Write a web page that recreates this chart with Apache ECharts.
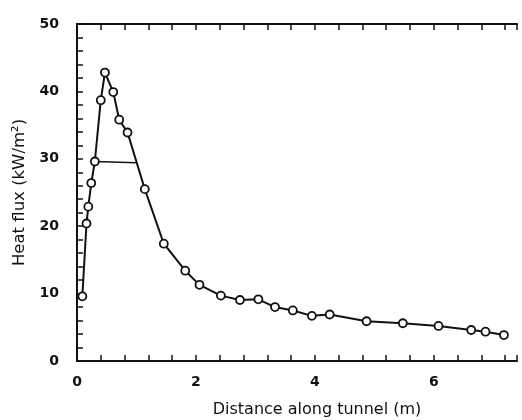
<!DOCTYPE html>
<html>
<head>
<meta charset="utf-8">
<script src="https://cdn.jsdelivr.net/npm/echarts@6/dist/echarts.min.js"></script>
<style>
html,body{margin:0;padding:0;background:#fff;}
#c{width:522px;height:420px;}
</style>
</head>
<body>
<div id="c"></div>
<script>
// distance along tunnel (m)
const distance = [0.09, 0.16, 0.19, 0.24, 0.30, 0.40, 0.47, 0.61, 0.71, 0.85, 1.14, 1.46, 1.82, 2.06, 2.42, 2.74, 3.05, 3.33, 3.63, 3.95, 4.25, 4.87, 5.48, 6.08, 6.63, 6.87, 7.18];
// heat flux (kW/m2)
const heatFlux = [9.6, 20.4, 22.9, 26.4, 29.6, 38.7, 42.8, 39.9, 35.8, 33.9, 25.5, 17.4, 13.4, 11.3, 9.7, 9.05, 9.15, 8.0, 7.5, 6.7, 6.9, 5.9, 5.6, 5.2, 4.6, 4.35, 3.85];
// horizontal annotation line (half-width marker)
const markerX = [0.30, 0.99];
const markerY = [29.6, 29.4];
const xTicks = [0, 2, 4, 6];
const yTicks = [0, 10, 20, 30, 40, 50];

const chart = echarts.init(document.getElementById('c'));
const lineData = distance.map((d, i) => [d, heatFlux[i]]);
const markerData = markerX.map((d, i) => [d, markerY[i]]);

const FONT = 'DejaVu Sans, Liberation Sans, Arial, sans-serif';
const tickFont = {color: '#111', fontFamily: FONT, fontSize: 14, fontWeight: 'bold'};
const axisLine = {show: true, onZero: false, lineStyle: {color: '#111', width: 2}};
const tick = {show: true, inside: true, length: 6, lineStyle: {color: '#111', width: 1.5}};
const minor = {show: true, splitNumber: 5, length: 6, lineStyle: {color: '#111', width: 1.5}};

chart.setOption({
  animation: false,
  backgroundColor: '#fff',
  grid: {left: 77, right: 5, top: 24, bottom: 59, containLabel: false, outerBoundsMode: 'none'},
  xAxis: [{
    type: 'value', min: 0, max: 7.4, interval: 2, position: 'bottom',
    axisLine: axisLine, axisTick: tick, minorTick: minor,
    splitLine: {show: false},
    axisLabel: Object.assign({margin: 14, showMaxLabel: false, formatter: v => xTicks.includes(v) ? String(v) : ''}, tickFont),
    name: 'Distance along tunnel (m)', nameLocation: 'middle', nameGap: 41,
    nameTextStyle: {color: '#111', fontFamily: FONT, fontSize: 16, padding: [0, 0, 0, 40]}
  }, {
    type: 'value', min: 0, max: 7.4, interval: 2, position: 'top',
    axisLine: axisLine, axisTick: tick, minorTick: minor,
    splitLine: {show: false},
    axisLabel: {show: false}
  }],
  yAxis: [{
    type: 'value', min: 0, max: 50, interval: 10,
    axisLine: axisLine, axisTick: tick, minorTick: minor,
    splitLine: {show: false},
    axisLabel: Object.assign({margin: 18, formatter: v => yTicks.includes(v) ? String(v) : ''}, tickFont),
    name: 'Heat flux (kW/m²)', nameLocation: 'middle', nameGap: 42,
    nameTextStyle: {color: '#111', fontFamily: FONT, fontSize: 16.5}
  }],
  series: [{
    type: 'line', data: lineData,
    symbol: 'circle', symbolSize: 8, showSymbol: true,
    lineStyle: {color: '#111', width: 2},
    itemStyle: {color: '#fff', borderColor: '#111', borderWidth: 1.8},
    z: 3
  }, {
    type: 'line', data: markerData, symbol: 'none',
    lineStyle: {color: '#111', width: 1.5}, z: 2
  }]
});
</script>
</body>
</html>
